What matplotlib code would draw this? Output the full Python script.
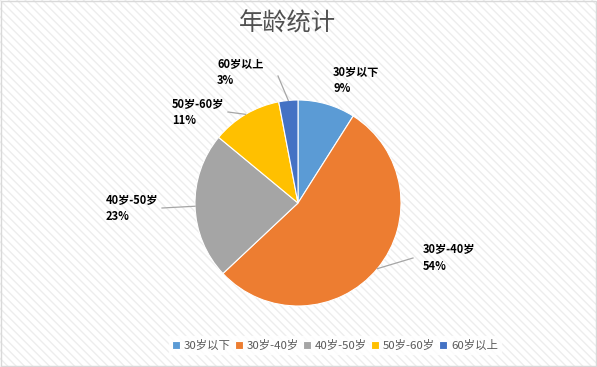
import numpy as np
import matplotlib
matplotlib.use("Agg")
import matplotlib.pyplot as plt
from matplotlib.patches import Rectangle

plt.rcParams['font.family'] = ['Noto Sans CJK SC', 'DejaVu Sans']

categories = ['30岁以下', '30岁-40岁', '40岁-50岁', '50岁-60岁', '60岁以上']
values = [9, 54, 23, 11, 3]
colors = ['#5B9BD5', '#ED7D31', '#A5A5A5', '#FFC000', '#4472C4']

# label anchor (pixels, top-left of text) and leader line end point
label_pos = [(333, 66), (423, 243), (106, 194), (172, 98), (217, 58)]
leader_end = [None, (413, 258), (162, 208), (228, 112), (278, 76)]

W, H = 597, 367
cx, cy, R = 298, 203, 103

fig = plt.figure(figsize=(W / 100, H / 100), dpi=100)
fig.patch.set_facecolor('white')

# striped background + thin border like the Excel chart area
bg = Rectangle((0, 0), 1, 1, transform=fig.transFigure, facecolor='white',
               edgecolor='#EDEDED', hatch='\\\\\\\\', linewidth=0, zorder=-10)
fig.patches.append(bg)
border = Rectangle((0.001, 0.002), 0.997, 0.995, transform=fig.transFigure,
                   facecolor='none', edgecolor='#D9D9D9', linewidth=1, zorder=-9)
fig.patches.append(border)

ax = fig.add_axes([0, 0, 1, 1])
ax.patch.set_alpha(0)
wedges, _ = ax.pie(values, colors=colors, startangle=90, counterclock=False,
                   center=(cx, H - cy), radius=R,
                   wedgeprops=dict(edgecolor='white', linewidth=0.8))
ax.set_xlim(0, W)
ax.set_ylim(0, H)
ax.set_aspect('equal')
ax.axis('off')

total = sum(values)
cum = 0
for i, v in enumerate(values):
    mid = (cum + v / 2) / total * 2 * np.pi
    cum += v
    ex = cx + R * np.sin(mid)
    ey = cy - R * np.cos(mid)
    if leader_end[i] is not None:
        lx, ly = leader_end[i]
        ax.plot([ex, lx], [H - ey, H - ly], color='#A6A6A6', lw=0.9)
    tx, ty = label_pos[i]
    ax.text(tx, H - ty, '%s\n%d%%' % (categories[i], v), ha='left', va='top',
            fontsize=8, fontweight='bold', color='black', linespacing=1.35)

fig.text(287 / W, 1 - 24 / H, '年龄统计', ha='center', va='center',
         fontsize=17.5, color='#505050')

leg = fig.legend(wedges, categories, loc='center', bbox_to_anchor=(335 / W, 1 - 345 / H),
                 ncol=5, frameon=True, fontsize=8.2, handlelength=0.7, handleheight=0.7,
                 handletextpad=0.35, columnspacing=0.35, borderpad=0.3)
leg.get_frame().set_facecolor('white')
leg.get_frame().set_edgecolor('white')
leg.get_frame().set_boxstyle('square', pad=0.0)
for t in leg.get_texts():
    t.set_color('#595959')

fig.savefig('out.png', dpi=100)
